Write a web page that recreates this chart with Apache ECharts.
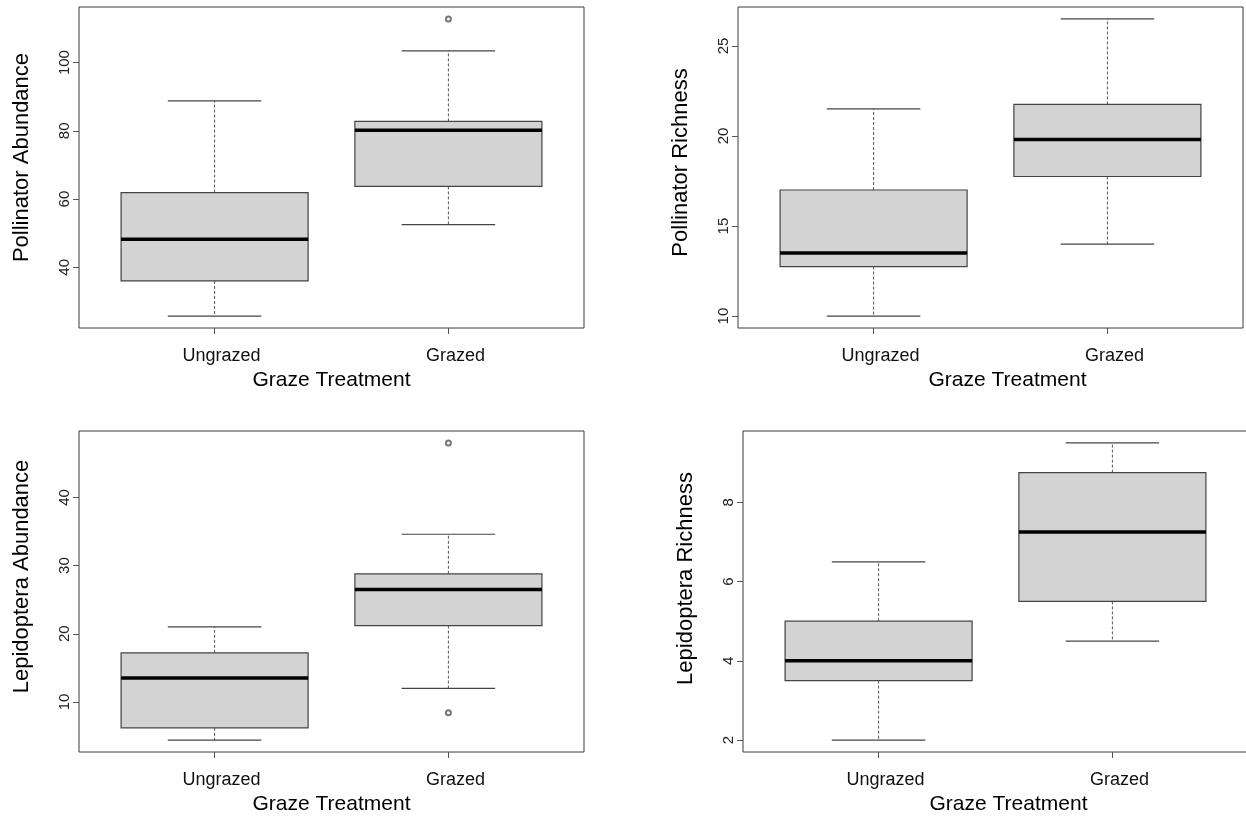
<!DOCTYPE html>
<html>
<head>
<meta charset="utf-8">
<title>Graze treatment boxplots</title>
<script src="https://cdn.jsdelivr.net/npm/echarts@6/dist/echarts.min.js"></script>
<style>
  html, body { margin: 0; padding: 0; background: #fff; }
  #chart { width: 1246px; height: 817px; }
</style>
</head>
<body>
<div id="chart"></div>
<script>
// Groups on the x axis
const categories = ['Ungrazed', 'Grazed'];
const xTitle = 'Graze Treatment';

// Five-number summaries: [lower whisker, Q1, median, Q3, upper whisker]
const pollAbundUngrazed = [25.7, 36, 48.2, 61.9, 88.8];
const pollAbundGrazed   = [52.5, 63.7, 80.2, 82.75, 103.4];
const pollAbundOutliersUngrazed = [];
const pollAbundOutliersGrazed   = [112.8];
const pollAbundTicks = [40, 60, 80, 100];

const pollRichUngrazed = [10, 12.75, 13.5, 17, 21.5];
const pollRichGrazed   = [14, 17.75, 19.8, 21.75, 26.5];
const pollRichOutliersUngrazed = [];
const pollRichOutliersGrazed   = [];
const pollRichTicks = [10, 15, 20, 25];

const lepAbundUngrazed = [4.4, 6.2, 13.5, 17.2, 21];
const lepAbundGrazed   = [12, 21.2, 26.5, 28.8, 34.6];
const lepAbundOutliersUngrazed = [];
const lepAbundOutliersGrazed   = [8.4, 48];
const lepAbundTicks = [10, 20, 30, 40];

const lepRichUngrazed = [2, 3.5, 4, 5, 6.5];
const lepRichGrazed   = [4.5, 5.5, 7.25, 8.75, 9.5];
const lepRichOutliersUngrazed = [];
const lepRichOutliersGrazed   = [];
const lepRichTicks = [2, 4, 6, 8];

// Panel layout (pixels) and per-panel text offsets
const panels = [
  { title: 'Pollinator Abundance', stats: [pollAbundUngrazed, pollAbundGrazed],
    outliers: [pollAbundOutliersUngrazed, pollAbundOutliersGrazed], ticks: pollAbundTicks,
    grid: { left: 79, top: 7, width: 505, height: 321 }, yShift: 10, xShift: 0 },
  { title: 'Pollinator Richness', stats: [pollRichUngrazed, pollRichGrazed],
    outliers: [pollRichOutliersUngrazed, pollRichOutliersGrazed], ticks: pollRichTicks,
    grid: { left: 738, top: 7, width: 505, height: 321 }, yShift: 5, xShift: 17 },
  { title: 'Lepidoptera Abundance', stats: [lepAbundUngrazed, lepAbundGrazed],
    outliers: [lepAbundOutliersUngrazed, lepAbundOutliersGrazed], ticks: lepAbundTicks,
    grid: { left: 79, top: 431, width: 505, height: 321 }, yShift: 15, xShift: 0 },
  { title: 'Lepidoptera Richness', stats: [lepRichUngrazed, lepRichGrazed],
    outliers: [lepRichOutliersUngrazed, lepRichOutliersGrazed], ticks: lepRichTicks,
    grid: { left: 743, top: 431, width: 505, height: 321 }, yShift: 13, xShift: 13 }
];

const BOX_WIDTH = 0.8;   // in x-axis units
const CAP_WIDTH = 0.4;
const FONT = '"Liberation Sans", Arial, Helvetica, sans-serif';

// Axis limits padded by 4% of the data range on each side
function paddedRange(lo, hi) {
  const d = (hi - lo) * 0.04;
  return [lo - d, hi + d];
}
const xRange = paddedRange(0.5, categories.length + 0.5);

function renderBox(params, api) {
  const x = api.value(0);
  const lo = api.coord([x, api.value(1)]);
  const q1 = api.coord([x, api.value(2)]);
  const md = api.coord([x, api.value(3)]);
  const q3 = api.coord([x, api.value(4)]);
  const hi = api.coord([x, api.value(5)]);
  const halfBox = api.size([BOX_WIDTH, 0])[0] / 2;
  const halfCap = api.size([CAP_WIDTH, 0])[0] / 2;
  const cx = lo[0];
  const dashStyle = { stroke: '#555', lineWidth: 1, lineDash: [3, 2], fill: null };
  const capStyle = { stroke: '#444', lineWidth: 1.2, fill: null };
  return {
    type: 'group',
    children: [
      { type: 'line', shape: { x1: cx, y1: q3[1], x2: cx, y2: hi[1] }, style: dashStyle },
      { type: 'line', shape: { x1: cx, y1: q1[1], x2: cx, y2: lo[1] }, style: dashStyle },
      { type: 'line', shape: { x1: cx - halfCap, y1: hi[1], x2: cx + halfCap, y2: hi[1] }, style: capStyle },
      { type: 'line', shape: { x1: cx - halfCap, y1: lo[1], x2: cx + halfCap, y2: lo[1] }, style: capStyle },
      { type: 'rect', shape: { x: cx - halfBox, y: q3[1], width: halfBox * 2, height: q1[1] - q3[1] },
        style: { fill: '#d3d3d3', stroke: '#444', lineWidth: 1.2 } },
      { type: 'line', shape: { x1: cx - halfBox, y1: md[1], x2: cx + halfBox, y2: md[1] },
        style: { stroke: '#000', lineWidth: 3.5 } }
    ]
  };
}

const grids = [], xAxes = [], yAxes = [], series = [];
panels.forEach((p, i) => {
  grids.push(Object.assign({
    show: true, borderColor: '#3a3a3a', borderWidth: 1, backgroundColor: '#fff',
    containLabel: false, outerBoundsMode: 'none'
  }, p.grid));

  const allVals = [];
  p.stats.forEach(s => allVals.push(...s));
  p.outliers.forEach(o => allVals.push(...o));
  const yRange = paddedRange(Math.min(...allVals), Math.max(...allVals));
  const catPositions = categories.map((c, k) => k + 1);

  xAxes.push({
    type: 'value', gridIndex: i, min: xRange[0], max: xRange[1],
    axisLine: { show: false }, splitLine: { show: false },
    axisTick: { show: true, customValues: catPositions, length: 6, lineStyle: { color: '#555' } },
    axisLabel: {
      customValues: catPositions,
      formatter: v => categories[Math.round(v) - 1],
      fontFamily: FONT, fontSize: 18, color: '#111', margin: 19, padding: [0, 0, 0, 14]
    },
    name: xTitle, nameLocation: 'middle', nameGap: 42,
    nameTextStyle: { fontFamily: FONT, fontSize: 21, color: '#000', padding: [0, 0, 0, p.xShift * 2] }
  });

  yAxes.push({
    type: 'value', gridIndex: i, min: yRange[0], max: yRange[1],
    axisLine: { show: false }, splitLine: { show: false },
    axisTick: { show: true, customValues: p.ticks, length: 6, lineStyle: { color: '#555' } },
    axisLabel: {
      customValues: p.ticks, rotate: 90, fontFamily: FONT, fontSize: 15, color: '#222', margin: 7
    },
    name: p.title, nameLocation: 'middle', nameGap: 46,
    nameTextStyle: { fontFamily: FONT, fontSize: 22, color: '#000', padding: [0, 0, 0, p.yShift * 2] }
  });

  series.push({
    type: 'custom', xAxisIndex: i, yAxisIndex: i,
    renderItem: renderBox,
    encode: { x: 0, y: [1, 2, 3, 4, 5] },
    data: p.stats.map((s, k) => [k + 1].concat(s)),
    silent: true, animation: false
  });

  const pts = [];
  p.outliers.forEach((o, k) => o.forEach(v => pts.push([k + 1, v])));
  series.push({
    type: 'scatter', xAxisIndex: i, yAxisIndex: i,
    symbol: 'emptyCircle', symbolSize: 5, z: 5,
    itemStyle: { color: '#555', borderColor: '#555', borderWidth: 0.8 },
    data: pts, silent: true, animation: false
  });
});

const chart = echarts.init(document.getElementById('chart'), null, { renderer: 'canvas' });
chart.setOption({
  backgroundColor: '#fff',
  animation: false,
  textStyle: { fontFamily: FONT },
  grid: grids,
  xAxis: xAxes,
  yAxis: yAxes,
  series: series
});
</script>
</body>
</html>
